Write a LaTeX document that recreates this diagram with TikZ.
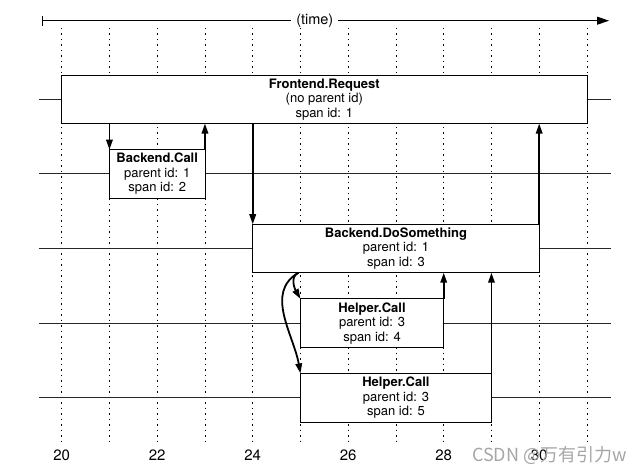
\documentclass[tikz,border=0pt]{standalone}
\usepackage{fontspec}
\setmainfont{TeX Gyre Heros}
\newfontfamily\cjkfont{Noto Sans CJK SC}
\usetikzlibrary{arrows.meta}
\newlength{\xdist}
\setlength{\xdist}{47.75pt}
\newlength{\ydist}
\setlength{\ydist}{74.6pt}

\begin{document}
\begin{tikzpicture}[
x=1pt, y=1pt,
spanbox/.style={draw, line width=0.8pt, fill=white, anchor=west, minimum height=48.5pt, inner sep=0pt, outer sep=0pt, align=center, font={\fontsize{13}{14.5}\selectfont}}, % one span of the trace
lane/.style={line width=0.8pt, black!85}, % horizontal lane of a span
timemark/.style={line width=0.7pt, dash pattern=on 1.5pt off 4pt}, % dotted time marks
call/.style={line width=1.8pt, -{Triangle[length=10pt,width=6.5pt]}}, % call and return arrows
ticklabel/.style={font={\fontsize{15}{15}\selectfont}} % numbers under the time axis
]

\useasboundingbox (-61.7,-76.3) rectangle (580.3,397.7);

% time axis
\coordinate (tstart) at (-19.7,377);
\coordinate (tend) at (547.3,377);
\draw[line width=0.8pt, {Bar[width=10pt]}-{Triangle[length=12pt,width=8pt]}] (tstart) -- (tend);
\node[fill=white, inner xsep=5pt, font={\fontsize{14.5}{14.5}\selectfont}] (time) at (253.1,377) {(time)};

\foreach \t in {0,...,11}
  \draw[timemark] (\t\xdist,369.7) -- (\t\xdist,-43.3);
\foreach \l in {0,...,4}
  \draw[lane] (-22.7,\l\ydist) -- (549.3,\l\ydist);

\node[spanbox, minimum width=11*\xdist] (req) at (0,4\ydist) {{\bfseries Frontend.Request}\\(no parent id)\\span id: 1};
\node[spanbox, minimum width=2*\xdist] (bcall) at (\xdist,3\ydist) {{\bfseries Backend.Call}\\parent id: 1\\span id: 2};
\node[spanbox, minimum width=6*\xdist] (bdo) at (4\xdist,2\ydist) {{\bfseries Backend.DoSomething}\\parent id: 1\\span id: 3};
\node[spanbox, minimum width=3*\xdist] (hcall1) at (5\xdist,\ydist) {{\bfseries Helper.Call}\\parent id: 3\\span id: 4};
\node[spanbox, minimum width=4*\xdist] (hcall2) at (5\xdist,0) {{\bfseries Helper.Call}\\parent id: 3\\span id: 5};

\draw[call] (bcall.north west |- req.south) -- (bcall.north west);
\draw[call] (bcall.north east) -- (bcall.north east |- req.south);
\draw[call] (bdo.north west |- req.south) -- (bdo.north west);
\draw[call] (bdo.north east) -- (bdo.north east |- req.south);
\draw[call] ([xshift=-2pt]hcall1.north west |- bdo.south) to[out=205, in=120] (hcall1.north west);
\draw[call] ([xshift=-2pt]hcall1.north west |- bdo.south) to[out=210, in=100] (hcall2.north west);
\draw[call] (hcall1.north east) -- (hcall1.north east |- bdo.south);
\draw[call] (hcall2.north east) -- (hcall2.north east |- bdo.south);

\foreach \t/\lab in {0/20,2/22,4/24,6/26,8/28,10/30}
  \node[ticklabel] (l\lab) at (\t\xdist,-57.3) {\lab};

\node[black!35, font={\cjkfont\fontsize{18}{18}\selectfont}] (wm) at (487.8,-57.3) {CSDN @万有引力w};

\end{tikzpicture}
\end{document}
